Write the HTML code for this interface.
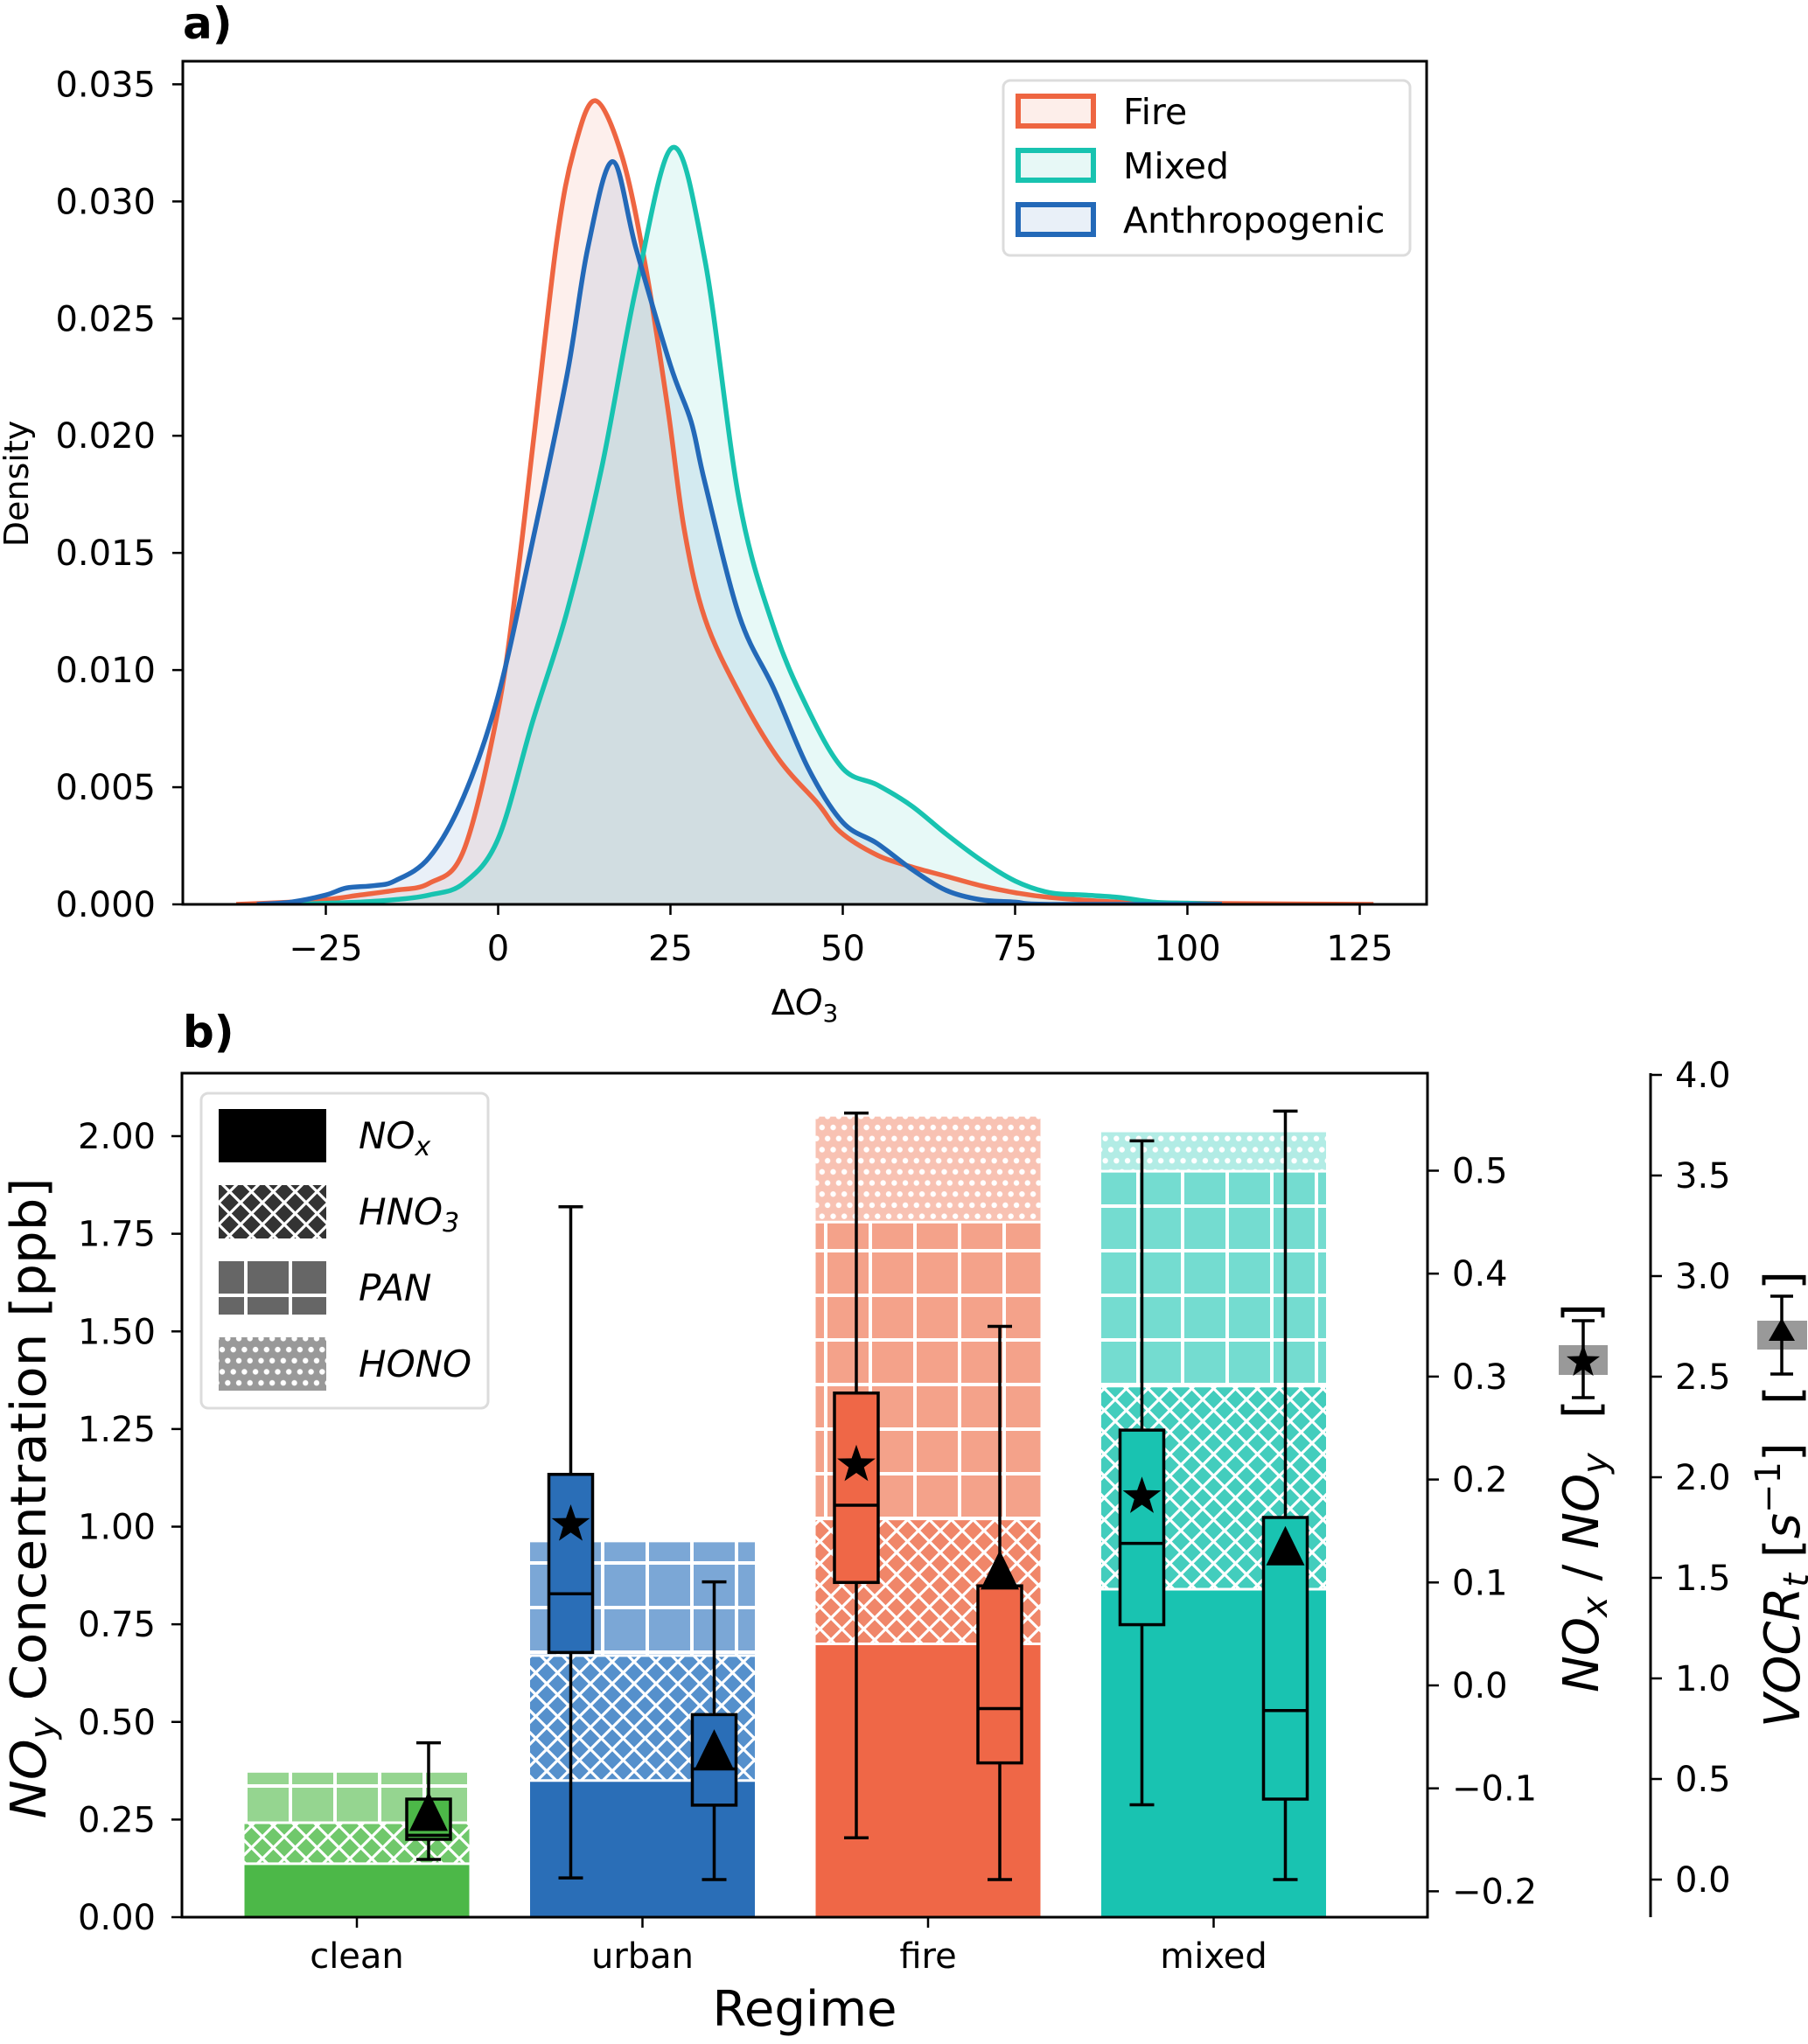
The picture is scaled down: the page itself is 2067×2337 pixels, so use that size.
<!DOCTYPE html>
<html><head><meta charset="utf-8"><style>
html,body{margin:0;padding:0;background:#fff;}
svg{display:block;font-family:"DejaVu Sans","Liberation Sans",sans-serif;}
</style></head><body>
<svg id="fig" xmlns="http://www.w3.org/2000/svg" width="2067" height="2337" viewBox="0 0 2067 2337">
<defs>
 <clipPath id="clipA"><rect x="209" y="70" width="1422" height="964"/></clipPath>
</defs>
<rect x="0" y="0" width="2067" height="2337" fill="#fff"/>
<g id="panelA"></g>
<g id="panelB"></g>
</svg>
<script>
// ---------- Panel a data ----------
const fireX = [-38,-30,-25,-20,-15,-10,-5,0,2.8,5.2,8.5,11,14.1,18,21.4,24.6,27,30,35,40.7,46.4,49.6,55,60,65,70,75,80,90,100,110,127];
const fireY = [0,0.0001,0.0002,0.0004,0.0006,0.0009,0.0023,0.0083,0.014,0.020,0.0283,0.0322,0.0343,0.0319,0.0272,0.0212,0.0160,0.0122,0.0090,0.0062,0.0043,0.0031,0.0021,0.0016,0.0012,0.0008,0.0005,0.0003,0.0001,0.00005,0.00003,0];
const mixedX = [-30,-20,-15,-10,-5,0,5,10,15,20,25.3,30,35,40,45,50,55,60,65,70,75,80,85,90,95,100,105];
const mixedY = [0,0.0001,0.0002,0.0004,0.0009,0.0028,0.0078,0.0125,0.0186,0.0263,0.0323,0.0275,0.0172,0.0118,0.0083,0.0058,0.0051,0.0042,0.003,0.0019,0.001,0.0005,0.0004,0.0003,0.0001,0.00005,0];
const anthX = [-35,-30,-25,-22,-18,-15,-10,-5,0,5,10,13,16.6,20,25,28,30,35,40,45,50,55,60,65,70,75,80,105];
const anthY = [0,0.0001,0.0004,0.0007,0.0008,0.001,0.002,0.0046,0.0089,0.0155,0.0226,0.028,0.0317,0.028,0.023,0.0206,0.018,0.0123,0.0092,0.0058,0.0035,0.0026,0.0015,0.0006,0.0002,0.0001,0,0];
const aXTicks = [-25,0,25,50,75,100,125];
const aXTickLabels = ["\u221225","0","25","50","75","100","125"];
const aYTicks = [0,0.005,0.01,0.015,0.02,0.025,0.03,0.035];
const aYTickLabels = ["0.000","0.005","0.010","0.015","0.020","0.025","0.030","0.035"];

// ---------- Panel b data ----------
const regimes = ["clean","urban","fire","mixed"];
const noxVals  = [0.137,0.35,0.70,0.84];
const hno3Vals = [0.105,0.32,0.32,0.52];
const panVals  = [0.128,0.29,0.76,0.55];
const honoVals = [0,0,0.27,0.10];
const ratioWhiskLo = [null,-0.187,-0.148,-0.116];
const ratioQ1      = [null,0.032,0.100,0.059];
const ratioMed     = [null,0.089,0.175,0.138];
const ratioQ3      = [null,0.205,0.284,0.248];
const ratioWhiskHi = [null,0.465,0.556,0.529];
const ratioMean    = [null,0.158,0.216,0.185];
const vocrWhiskLo = [0.10,0.0,0.0,0.0];
const vocrQ1      = [0.20,0.37,0.58,0.40];
const vocrMed     = [0.22,0.55,0.85,0.84];
const vocrQ3      = [0.40,0.82,1.46,1.80];
const vocrWhiskHi = [0.68,1.48,2.75,3.82];
const vocrMean    = [0.32,0.63,1.52,1.64];
const bYTicks = [0,0.25,0.5,0.75,1.0,1.25,1.5,1.75,2.0];
const bYTickLabels = ["0.00","0.25","0.50","0.75","1.00","1.25","1.50","1.75","2.00"];
const r1Ticks = [-0.2,-0.1,0,0.1,0.2,0.3,0.4,0.5];
const r1TickLabels = ["\u22120.2","\u22120.1","0.0","0.1","0.2","0.3","0.4","0.5"];
const r2Ticks = [0,0.5,1,1.5,2,2.5,3,3.5,4];
const r2TickLabels = ["0.0","0.5","1.0","1.5","2.0","2.5","3.0","3.5","4.0"];

const NS = "http://www.w3.org/2000/svg";
function add(parent, tag, attrs){
  const e = document.createElementNS(NS, tag);
  for (const k in attrs) e.setAttribute(k, attrs[k]);
  parent.appendChild(e);
  return e;
}
const svg = document.getElementById('fig');
const defs = svg.querySelector('defs');
const A = document.getElementById('panelA');
const B = document.getElementById('panelB');

const xa = v => 569.5 + v*7.88;
const ya = v => 1034 - v*26789;
const yb = v => 2192 - v*446.5;
const y1 = v => 1927 - v*1177;
const y2 = v => 2149 - v*230;
const cx = i => 408 + i*326.5;
const TF = 40;

function smoothPath(xs, ys){
  const p = xs.map((x,i)=>[xa(x), ya(ys[i])]);
  let d = `M${p[0][0]},${p[0][1]}`;
  for (let i=0;i<p.length-1;i++){
    const p0=p[Math.max(0,i-1)], p1=p[i], p2=p[i+1], p3=p[Math.min(p.length-1,i+2)];
    let c1y = p1[1]+(p2[1]-p0[1])/6, c2y = p2[1]-(p3[1]-p1[1])/6;
    c1y = Math.min(c1y, 1034); c2y = Math.min(c2y, 1034);
    d += ` C${p1[0]+(p2[0]-p0[0])/6},${c1y} ${p2[0]-(p3[0]-p1[0])/6},${c2y} ${p2[0]},${p2[1]}`;
  }
  return d;
}

// ---------- Panel a ----------
const series = [
  {x:fireX, y:fireY, c:"#ee6541", f:"rgba(238,101,65,0.1)", n:"fire"},
  {x:mixedX, y:mixedY, c:"#18c3b0", f:"rgba(24,195,176,0.1)", n:"mixed"},
  {x:anthX, y:anthY, c:"#2369b8", f:"rgba(35,105,184,0.1)", n:"anthropogenic"}
];
const gClip = add(A,'g',{'clip-path':'url(#clipA)'});
series.forEach(s=>{
  const d = smoothPath(s.x,s.y);
  const fill = add(gClip,'path',{d: d+` L${xa(s.x[s.x.length-1])},${ya(0)} L${xa(s.x[0])},${ya(0)} Z`, fill:s.f, stroke:'none'});
  
  
});
series.forEach(s=>{
  const d = smoothPath(s.x,s.y);
  const line = add(gClip,'path',{d:d, fill:'none', stroke:s.c, 'stroke-width':5.5, 'stroke-linejoin':'round'});
  
  
});
const frameA = add(A,'rect',{x:209,y:70,width:1422,height:964,fill:'none',stroke:'#000','stroke-width':3});


aXTicks.forEach((t,i)=>{
  add(A,'line',{x1:xa(t),x2:xa(t),y1:1034,y2:1046,stroke:'#000','stroke-width':2.5});
  const tx = add(A,'text',{x:xa(t),y:1098,'font-size':TF,'text-anchor':'middle'});
  tx.textContent = aXTickLabels[i];
  
  
});
aYTicks.forEach((t,i)=>{
  add(A,'line',{x1:197,x2:209,y1:ya(t),y2:ya(t),stroke:'#000','stroke-width':2.5});
  const tx = add(A,'text',{x:178,y:ya(t)+14,'font-size':TF,'text-anchor':'end'});
  tx.textContent = aYTickLabels[i];
  
  
});
const xlabA = add(A,'text',{x:920,y:1160,'font-size':40,'text-anchor':'middle'});
xlabA.innerHTML = 'Δ<tspan font-style="italic">O</tspan><tspan font-size="28" dy="8">3</tspan>';


const ylabA = add(A,'text',{x:0,y:0,'font-size':38,'text-anchor':'middle',transform:'translate(32,553) rotate(-90)'});
ylabA.textContent = 'Density';


const la = add(A,'text',{x:209,y:44,'font-size':50,'font-weight':'bold'});
la.textContent = 'a)';


const legA = add(A,'g',{});


add(legA,'rect',{x:1147,y:92,width:465,height:200,rx:8,fill:'#fff',stroke:'#dcdcdc','stroke-width':3});
const legNames = ["Fire","Mixed","Anthropogenic"];
const legFills = ["#fdeeea","#e7f8f6","#e9f0f8"];
series.forEach((s,i)=>{
  const yy = 127 + i*62;
  const r = add(legA,'rect',{x:1164,y:yy-17,width:86,height:34,fill:legFills[i],stroke:s.c,'stroke-width':6});
  
  
  const t = add(legA,'text',{x:1284,y:yy+15,'font-size':41});
  t.textContent = legNames[i];
  
  
});

// ---------- Panel b patterns ----------
function crossPat(id, bg){
  const p = add(defs,'pattern',{id:id,patternUnits:'userSpaceOnUse',width:25,height:25});
  add(p,'rect',{x:0,y:0,width:25,height:25,fill:bg});
  add(p,'path',{d:'M0,0 L25,25 M25,0 L0,25 M-5,20 L5,30 M20,-5 L30,5 M20,30 L30,20 M-5,5 L5,-5',stroke:'#fff','stroke-width':3.2});
}
function gridPat(id, bg){
  const p = add(defs,'pattern',{id:id,patternUnits:'userSpaceOnUse',width:51,height:51,x:279,y:0});
  add(p,'rect',{x:0,y:0,width:51,height:51,fill:bg});
  add(p,'path',{d:'M2,0 L2,51 M0,2 L51,2',stroke:'#fff','stroke-width':4});
}
function dotPat(id, bg){
  const p = add(defs,'pattern',{id:id,patternUnits:'userSpaceOnUse',width:25.4,height:25.4});
  add(p,'rect',{x:0,y:0,width:25.4,height:25.4,fill:bg});
  add(p,'circle',{cx:6.35,cy:6.35,r:3.2,fill:'#fff'});
  add(p,'circle',{cx:19.05,cy:6.35,r:3.2,fill:'#fff'});
  add(p,'circle',{cx:0,cy:19.05,r:3.2,fill:'#fff'});
  add(p,'circle',{cx:12.7,cy:19.05,r:3.2,fill:'#fff'});
  add(p,'circle',{cx:25.4,cy:19.05,r:3.2,fill:'#fff'});
}
const noxCol  = ["#4cb848","#2a6eb7","#ef6747","#19c3b1"];
const hnoCol  = ["#70c86b","#5590cc","#f08669","#43cdbd"];
const panCol  = ["#95d590","#7ba7d6","#f4a28a","#74dcd0"];
const honoCol = ["#b8e4b5","#b0cbe8","#f8c2b3","#b2ece5"];
regimes.forEach((r,i)=>{ crossPat('cr'+i,hnoCol[i]); gridPat('gr'+i,panCol[i]); dotPat('dt'+i,honoCol[i]); });
crossPat('crL','#333'); gridPat('grL','#666'); dotPat('dtL','#999');

const barW = 257;
regimes.forEach((r,i)=>{
  const x0 = cx(i) - barW/2;
  let base = 0;
  const layers = [[noxVals[i], noxCol[i], 'nox'],[hno3Vals[i], 'url(#cr'+i+')','hno3'],[panVals[i],'url(#gr'+i+')','pan'],[honoVals[i],'url(#dt'+i+')','hono']];
  layers.forEach(L=>{
    if (L[0] <= 0) return;
    const top = base + L[0];
    const rc = add(B,'rect',{x:x0,y:yb(top),width:barW,height:yb(base)-yb(top),fill:L[1]});
    
    
    if (base > 0) add(B,'line',{x1:x0,x2:x0+barW,y1:yb(base),y2:yb(base),stroke:'#fff','stroke-width':3});
    base = top;
  });
});

function star(cxp, cyp, R){
  let d=''; for(let k=0;k<10;k++){const a=-Math.PI/2+k*Math.PI/5; const rr=k%2?R*0.4:R; d+=(k?'L':'M')+(cxp+rr*Math.cos(a))+','+(cyp+rr*Math.sin(a));} return d+'Z';
}
function boxplot(xc, lo, q1, med, q3, hi, mean, sc, col, marker, name){
  const g = add(B,'g',{});
  
  
  const w = 50;
  add(g,'line',{x1:xc,x2:xc,y1:sc(hi),y2:sc(q3),stroke:'#000','stroke-width':3.5});
  add(g,'line',{x1:xc,x2:xc,y1:sc(q1),y2:sc(lo),stroke:'#000','stroke-width':3.5});
  add(g,'line',{x1:xc-14,x2:xc+14,y1:sc(hi),y2:sc(hi),stroke:'#000','stroke-width':3.5});
  add(g,'line',{x1:xc-14,x2:xc+14,y1:sc(lo),y2:sc(lo),stroke:'#000','stroke-width':3.5});
  add(g,'rect',{x:xc-w/2,y:sc(q3),width:w,height:sc(q1)-sc(q3),fill:col,stroke:'#000','stroke-width':3.5});
  add(g,'line',{x1:xc-w/2,x2:xc+w/2,y1:sc(med),y2:sc(med),stroke:'#000','stroke-width':3.5});
  const m = sc(mean);
  if (marker==='star') add(g,'path',{d:star(xc,m+2,23),fill:'#000'});
  else add(g,'path',{d:`M${xc},${m-27} L${xc+22},${m+18} L${xc-22},${m+18} Z`,fill:'#000'});
}
regimes.forEach((r,i)=>{
  if (ratioMed[i]!==null) boxplot(cx(i)-82, ratioWhiskLo[i], ratioQ1[i], ratioMed[i], ratioQ3[i], ratioWhiskHi[i], ratioMean[i], y1, noxCol[i], 'star', 'nox-ratio-box-'+r);
  boxplot(cx(i)+82, vocrWhiskLo[i], vocrQ1[i], vocrMed[i], vocrQ3[i], vocrWhiskHi[i], vocrMean[i], y2, noxCol[i], 'tri', 'vocr-box-'+r);
});

const frameB = add(B,'rect',{x:208,y:1227,width:1424,height:965,fill:'none',stroke:'#000','stroke-width':3});


bYTicks.forEach((t,i)=>{
  add(B,'line',{x1:196,x2:208,y1:yb(t),y2:yb(t),stroke:'#000','stroke-width':2.5});
  const tx = add(B,'text',{x:178,y:yb(t)+14,'font-size':TF,'text-anchor':'end'});
  tx.textContent = bYTickLabels[i];
  
  
});
regimes.forEach((r,i)=>{
  add(B,'line',{x1:cx(i),x2:cx(i),y1:2192,y2:2204,stroke:'#000','stroke-width':2.5});
  const tx = add(B,'text',{x:cx(i),y:2250,'font-size':40,'text-anchor':'middle'});
  tx.textContent = r;
  
  
});
r1Ticks.forEach((t,i)=>{
  add(B,'line',{x1:1632,x2:1645,y1:y1(t),y2:y1(t),stroke:'#000','stroke-width':2.5});
  const tx = add(B,'text',{x:1660,y:y1(t)+14,'font-size':TF});
  tx.textContent = r1TickLabels[i];
  
  
});
const spine2 = add(B,'line',{x1:1887,x2:1887,y1:1227,y2:2192,stroke:'#000','stroke-width':3});


r2Ticks.forEach((t,i)=>{
  add(B,'line',{x1:1887,x2:1900,y1:y2(t),y2:y2(t),stroke:'#000','stroke-width':2.5});
  const tx = add(B,'text',{x:1915,y:y2(t)+14,'font-size':TF});
  tx.textContent = r2TickLabels[i];
  
  
});
const lb = add(B,'text',{x:209,y:1197,'font-size':50,'font-weight':'bold'});
lb.textContent = 'b)';


const regime = add(B,'text',{x:920,y:2316,'font-size':56,'text-anchor':'middle'});
regime.textContent = 'Regime';


const ylabB = add(B,'text',{x:0,y:0,'font-size':56,'text-anchor':'middle',transform:'translate(52,1713) rotate(-90)',textLength:733,lengthAdjust:'spacingAndGlyphs'});
ylabB.innerHTML = '<tspan font-style="italic">NO</tspan><tspan font-style="italic" font-size="40" dy="10">y</tspan><tspan dy="-10"> Concentration [ppb]</tspan>';


const r1lab = add(B,'text',{x:0,y:0,'font-size':56,'text-anchor':'start',transform:'translate(1827,1935) rotate(-90)'});
r1lab.innerHTML = '<tspan font-style="italic">NO</tspan><tspan font-style="italic" font-size="40" dy="10">x</tspan><tspan dy="-10"> / </tspan><tspan font-style="italic">NO</tspan><tspan font-style="italic" font-size="40" dy="10">y</tspan>';


const r1t = add(B,'text',{x:0,y:0,'font-size':56,transform:'translate(1827,1622) rotate(-90)',textLength:132,lengthAdjust:'spacing'});
r1t.textContent = '[ ]';


add(B,'rect',{x:1782,y:1538,width:56,height:34,fill:'#999'});
add(B,'line',{x1:1810,x2:1810,y1:1510,y2:1598,stroke:'#000','stroke-width':3.5});
add(B,'line',{x1:1797,x2:1823,y1:1510,y2:1510,stroke:'#000','stroke-width':3.5});
add(B,'line',{x1:1797,x2:1823,y1:1598,y2:1598,stroke:'#000','stroke-width':3.5});
add(B,'path',{d:star(1810,1557,20),fill:'#000'});
const r2lab = add(B,'text',{x:0,y:0,'font-size':56,transform:'translate(2057,1975) rotate(-90)'});
r2lab.innerHTML = '<tspan font-style="italic">VOCR</tspan><tspan font-style="italic" font-size="40" dy="10">t</tspan><tspan dy="-10"> [</tspan><tspan font-style="italic">s</tspan><tspan font-size="40" dy="-22">−1</tspan><tspan dy="22">]</tspan>';


const r2t = add(B,'text',{x:0,y:0,'font-size':56,transform:'translate(2057,1606) rotate(-90)',textLength:153,lengthAdjust:'spacing'});
r2t.textContent = '[ ]';


add(B,'rect',{x:2009,y:1510,width:57,height:33,fill:'#999'});
add(B,'line',{x1:2037,x2:2037,y1:1482,y2:1571,stroke:'#000','stroke-width':3.5});
add(B,'line',{x1:2024,x2:2050,y1:1482,y2:1482,stroke:'#000','stroke-width':3.5});
add(B,'line',{x1:2024,x2:2050,y1:1571,y2:1571,stroke:'#000','stroke-width':3.5});
add(B,'path',{d:'M2037,1507 L2052,1533 L2022,1533 Z',fill:'#000'});

const legB = add(B,'g',{});


add(legB,'rect',{x:230,y:1250,width:328,height:360,rx:8,fill:'#fff',stroke:'#dcdcdc','stroke-width':3});
const legBFills = ['#000','url(#crL)','url(#grL)','url(#dtL)'];
const legBLab = ['NO<tspan font-size="30" dy="8">x</tspan>','HNO<tspan font-size="30" dy="8">3</tspan>','PAN','HONO'];
legBFills.forEach((f,i)=>{
  const yy = 1268 + i*87;
  const r = add(legB,'rect',{x:250,y:yy,width:123,height:61,fill:f});
  
  
  const t = add(legB,'text',{x:410,y:yy+45,'font-size':42,'font-style':'italic'});
  t.innerHTML = legBLab[i];
  
  
});
</script>
</body></html>
